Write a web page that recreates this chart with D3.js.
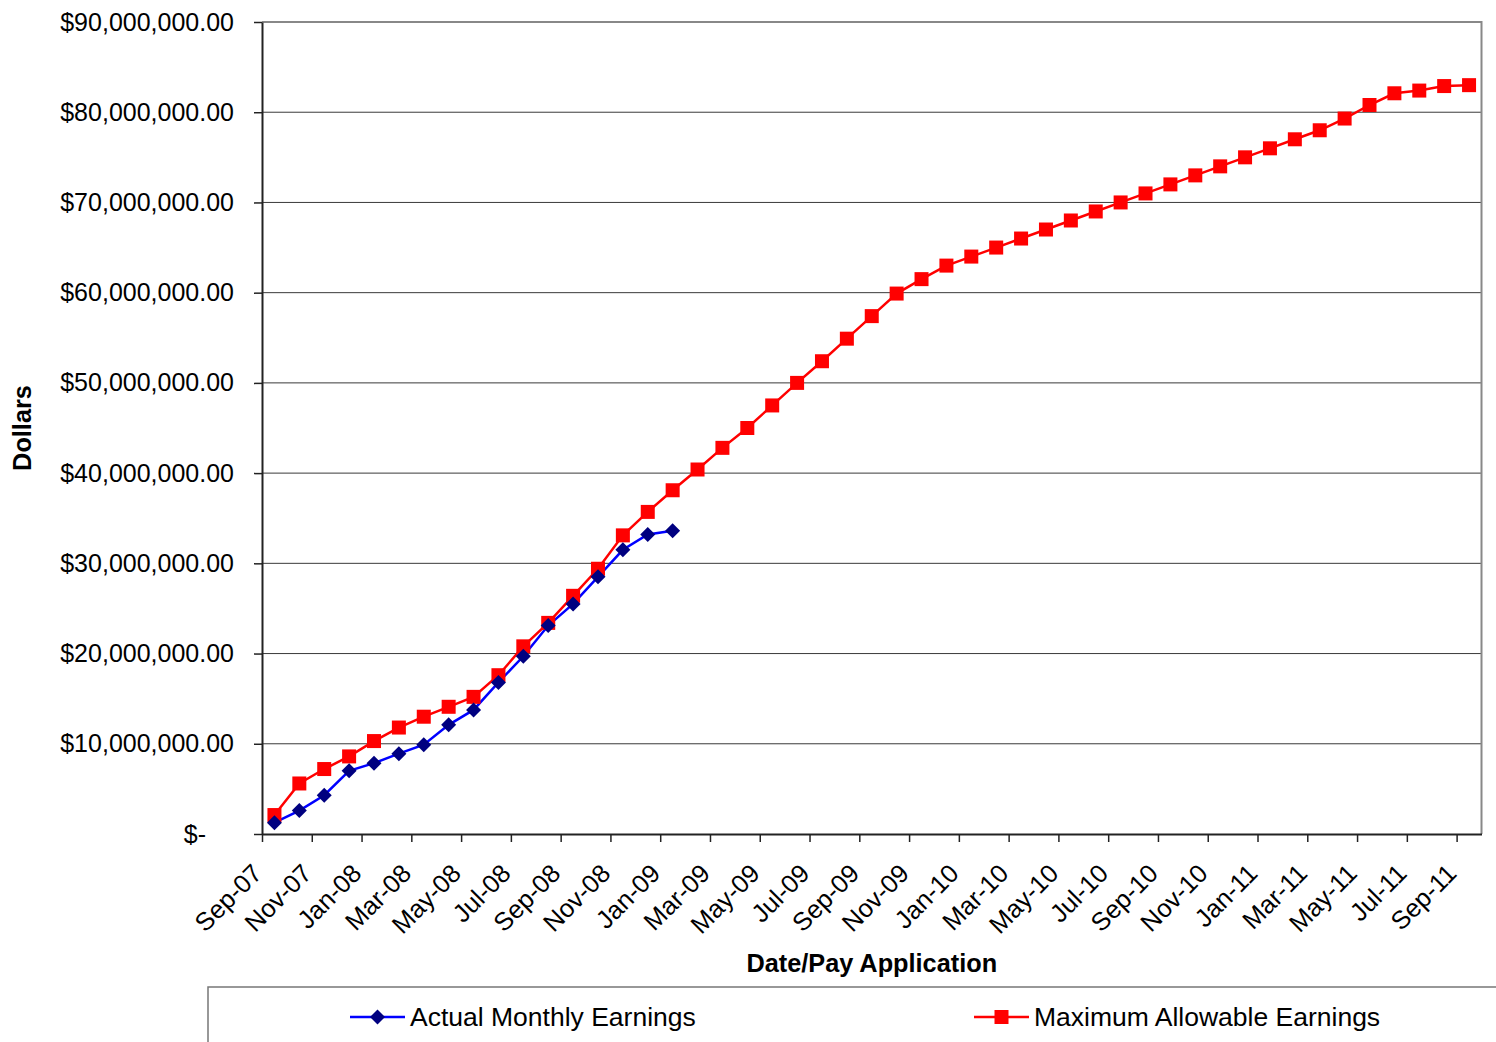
<!DOCTYPE html>
<html>
<head>
<meta charset="utf-8">
<script src="https://cdn.jsdelivr.net/npm/d3@7"></script>
<style>
  body { margin: 0; background: #fff; }
  svg { font-family: 'Liberation Sans', Arial, sans-serif; }
</style>
</head>
<body>
<div id="chart"></div>
<script>
// month labels, one per pay application
const months = [
  'Sep-07', 'Oct-07', 'Nov-07', 'Dec-07', 'Jan-08', 'Feb-08', 'Mar-08', 'Apr-08', 'May-08', 'Jun-08',
  'Jul-08', 'Aug-08', 'Sep-08', 'Oct-08', 'Nov-08', 'Dec-08', 'Jan-09', 'Feb-09', 'Mar-09', 'Apr-09',
  'May-09', 'Jun-09', 'Jul-09', 'Aug-09', 'Sep-09', 'Oct-09', 'Nov-09', 'Dec-09', 'Jan-10', 'Feb-10',
  'Mar-10', 'Apr-10', 'May-10', 'Jun-10', 'Jul-10', 'Aug-10', 'Sep-10', 'Oct-10', 'Nov-10', 'Dec-10',
  'Jan-11', 'Feb-11', 'Mar-11', 'Apr-11', 'May-11', 'Jun-11', 'Jul-11', 'Aug-11', 'Sep-11'
]

// cumulative earnings, in dollars
const actualEarnings = [
  1250000, 2600000, 4300000, 7000000, 7850000, 8900000, 9900000, 12100000, 13750000,
  16800000, 19700000, 23100000, 25500000, 28500000, 31500000, 33200000, 33600000
]

const maxAllowable = [
  2100000, 5600000, 7200000, 8600000, 10300000, 11800000, 13000000, 14100000, 15200000,
  17600000, 20800000, 23400000, 26400000, 29400000, 33100000, 35700000, 38100000, 40400000,
  42800000, 45000000, 47500000, 50000000, 52400000, 54900000, 57400000, 59900000, 61500000,
  63000000, 64000000, 65000000, 66000000, 67000000, 68000000, 69000000, 70000000, 71000000,
  72000000, 73000000, 74000000, 75000000, 76000000, 77000000, 78000000, 79300000, 80800000,
  82100000, 82400000, 82900000, 83000000
]

const yTicks = [0, 10000000, 20000000, 30000000, 40000000, 50000000, 60000000, 70000000, 80000000, 90000000]
const xTickMonths = ['Sep-07', 'Nov-07', 'Jan-08', 'Mar-08', 'May-08', 'Jul-08', 'Sep-08', 'Nov-08',
  'Jan-09', 'Mar-09', 'May-09', 'Jul-09', 'Sep-09', 'Nov-09', 'Jan-10', 'Mar-10', 'May-10', 'Jul-10',
  'Sep-10', 'Nov-10', 'Jan-11', 'Mar-11', 'May-11', 'Jul-11', 'Sep-11']

const W = 1496, H = 1042
const plot = { left: 262, right: 1481.5, top: 22, bottom: 834 }

const svg = d3.select('#chart')
  .append('svg')
  .attr('width', W)
  .attr('height', H)

// month index axis, points sit in the middle of each month
const x = d3.scaleLinear()
  .domain([0, months.length])
  .range([plot.left, plot.right])

const y = d3.scaleLinear()
  .domain([0, 90000000])
  .range([plot.bottom, plot.top])

const money = d3.format('$,.2f')

// gridlines
svg.append('g')
  .selectAll('line')
  .data(yTicks.slice(1, -1))
  .enter()
  .append('line')
  .attr('x1', plot.left)
  .attr('x2', plot.right)
  .attr('y1', d => y(d))
  .attr('y2', d => y(d))
  .attr('stroke', '#3a3a3a')
  .attr('stroke-width', 1)

// top and right frame
svg.append('path')
  .attr('d', `M${plot.left},${plot.top}H${plot.right}V${plot.bottom}`)
  .attr('fill', 'none')
  .attr('stroke', '#888')
  .attr('stroke-width', 2)

// Y axis
const yAxis = svg.append('g')
  .attr('transform', `translate(${plot.left},0)`)
  .call(d3.axisLeft(y).tickValues(yTicks).tickSize(8).tickSizeOuter(0)
    .tickFormat(d => d === 0 ? '$-' : money(d)))
yAxis.select('.domain').attr('stroke', '#222').attr('stroke-width', 2)
yAxis.selectAll('.tick line').attr('stroke', '#222').attr('stroke-width', 1.5)
yAxis.selectAll('.tick text')
  .attr('x', -28)
  .attr('font-size', 25)
  .attr('fill', '#000')
  .attr('font-family', "'Liberation Sans', Arial, sans-serif")
yAxis.selectAll('.tick text').filter(d => d === 0).attr('x', -56)

// X axis
const xAxis = svg.append('g')
  .attr('transform', `translate(0,${plot.bottom})`)
  .call(d3.axisBottom(x)
    .tickValues(xTickMonths.map(m => months.indexOf(m)))
    .tickSize(8).tickSizeOuter(0)
    .tickFormat(i => months[i]))
xAxis.select('.domain').attr('stroke', '#222').attr('stroke-width', 2)
xAxis.selectAll('.tick line').attr('stroke', '#222').attr('stroke-width', 1.5)
xAxis.selectAll('.tick text')
  .attr('y', 0)
  .attr('dy', 0)
  .attr('text-anchor', 'end')
  .attr('transform', 'translate(1,41) rotate(-45)')
  .attr('font-size', 25.5)
  .attr('fill', '#000')
  .attr('font-family', "'Liberation Sans', Arial, sans-serif")

// axis titles
svg.append('text')
  .attr('x', (plot.left + plot.right) / 2)
  .attr('y', 972)
  .attr('text-anchor', 'middle')
  .attr('font-size', 25.3)
  .attr('font-weight', 'bold')
  .text('Date/Pay Application')

svg.append('text')
  .attr('transform', 'translate(31,428) rotate(-90)')
  .attr('text-anchor', 'middle')
  .attr('font-size', 25.3)
  .attr('font-weight', 'bold')
  .text('Dollars')

// series
const line = d3.line()
  .x((d, i) => x(i + 0.5))
  .y(d => y(d))

svg.append('path')
  .datum(maxAllowable)
  .attr('d', line)
  .attr('fill', 'none')
  .attr('stroke', '#ff0000')
  .attr('stroke-width', 2.5)

svg.append('path')
  .datum(actualEarnings)
  .attr('d', line)
  .attr('fill', 'none')
  .attr('stroke', '#0000ff')
  .attr('stroke-width', 2.5)

const sq = 14
svg.append('g')
  .selectAll('rect')
  .data(maxAllowable)
  .enter()
  .append('rect')
  .attr('x', (d, i) => x(i + 0.5) - sq / 2)
  .attr('y', d => y(d) - sq / 2)
  .attr('width', sq)
  .attr('height', sq)
  .attr('fill', '#ff0000')

const diamond = 'M0,-7.5L7.5,0L0,7.5L-7.5,0Z'
svg.append('g')
  .selectAll('path')
  .data(actualEarnings)
  .enter()
  .append('path')
  .attr('d', diamond)
  .attr('transform', (d, i) => `translate(${x(i + 0.5)},${y(d)})`)
  .attr('fill', '#000080')

// legend
const legend = svg.append('g')
legend.append('rect')
  .attr('x', 208)
  .attr('y', 987)
  .attr('width', 1400)
  .attr('height', 100)
  .attr('fill', 'none')
  .attr('stroke', '#777')
  .attr('stroke-width', 1.5)

const items = [
  { label: 'Actual Monthly Earnings', color: '#0000ff', mark: '#000080', type: 'diamond', x: 350 },
  { label: 'Maximum Allowable Earnings', color: '#ff0000', mark: '#ff0000', type: 'square', x: 974 }
]
items.forEach(it => {
  legend.append('line')
    .attr('x1', it.x).attr('x2', it.x + 55)
    .attr('y1', 1017).attr('y2', 1017)
    .attr('stroke', it.color)
    .attr('stroke-width', 2.5)
  if (it.type === 'diamond') {
    legend.append('path')
      .attr('d', diamond)
      .attr('transform', `translate(${it.x + 27.5},1017)`)
      .attr('fill', it.mark)
  } else {
    legend.append('rect')
      .attr('x', it.x + 27.5 - sq / 2).attr('y', 1017 - sq / 2)
      .attr('width', sq).attr('height', sq)
      .attr('fill', it.mark)
  }
  legend.append('text')
    .attr('x', it.x + 60)
    .attr('y', 1026)
    .attr('font-size', 26.5)
    .text(it.label)
})
</script>
</body>
</html>
